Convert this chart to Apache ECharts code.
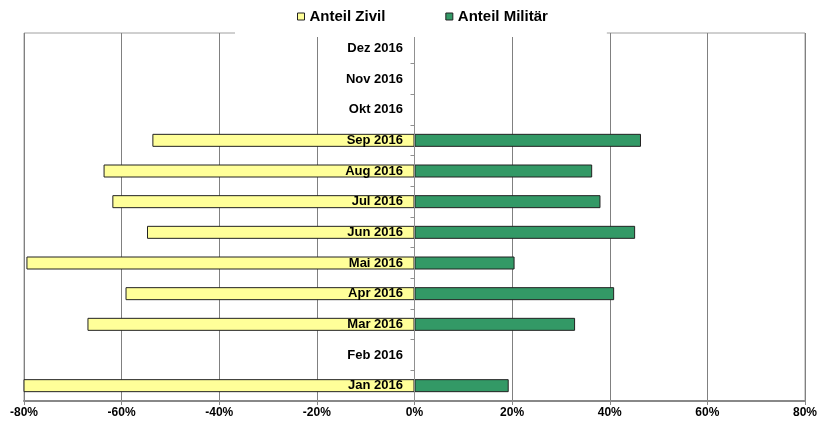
<!DOCTYPE html>
<html>
<head>
<meta charset="utf-8">
<script src="https://cdn.jsdelivr.net/npm/echarts@6/dist/echarts.min.js"></script>
<style>html,body{margin:0;padding:0;background:#fff}#c{width:817px;height:428px}</style>
</head>
<body>
<div id="c"></div>
<script>
const categories = ['Jan 2016','Feb 2016','Mar 2016','Apr 2016','Mai 2016','Jun 2016','Jul 2016','Aug 2016','Sep 2016','Okt 2016','Nov 2016','Dez 2016'];
const zivil = [-80.7, null, -67.0, -59.2, -79.5, -54.8, -61.9, -63.7, -53.7, null, null, null];
const militaer = [19.3, null, 32.9, 40.9, 20.5, 45.2, 38.1, 36.4, 46.4, null, null, null];
const xTicks = [-80, -60, -40, -20, 0, 20, 40, 60, 80];

const chart = echarts.init(document.getElementById('c'), null, {renderer: 'canvas'});
const font = 'Liberation Sans, Arial, sans-serif';
chart.setOption({
  animation: false,
  textStyle: {fontFamily: font},
  legend: {
    top: 3,
    left: 235,
    padding: [6, 59, 13, 62],
    backgroundColor: '#ffffff',
    itemWidth: 7,
    itemHeight: 7,
    itemGap: 60,
    icon: 'rect',
    z: 10,
    textStyle: {fontFamily: font, fontSize: 15, fontWeight: 'bold', color: '#000'},
    data: [
      {name: 'Anteil Zivil', itemStyle: {color: '#FFFF99', borderColor: '#222', borderWidth: 1}},
      {name: 'Anteil Militär', itemStyle: {color: '#339966', borderColor: '#222', borderWidth: 1}}
    ]
  },
  grid: {left: 24, right: 12, top: 33, bottom: 27, show: true, borderColor: '#a0a0a0', borderWidth: 1, containLabel: false, outerBoundsMode: 'none'},
  xAxis: {
    type: 'value', min: xTicks[0], max: xTicks[xTicks.length - 1], interval: 20,
    axisLine: {show: true, lineStyle: {color: '#888888', width: 2}},
    axisTick: {show: true, length: 4, lineStyle: {color: '#888888'}},
    splitLine: {show: true, lineStyle: {color: '#808080', width: 1}},
    axisLabel: {formatter: '{value}%', fontFamily: font, fontSize: 12, fontWeight: 'bold', color: '#000', margin: 6}
  },
  yAxis: {
    type: 'category', data: categories, z: 5,
    axisLine: {show: true, onZero: true, lineStyle: {color: '#909090', width: 1}},
    axisTick: {show: true, length: 4, lineStyle: {color: '#909090'}},
    axisLabel: {fontFamily: font, fontSize: 13, fontWeight: 'bold', color: '#000', margin: -379, interval: 0, align: 'right'}
  },
  series: [
    {name: 'Anteil Zivil', type: 'bar', stack: 'a', data: zivil, barWidth: 13,
     itemStyle: {color: '#FFFF99', borderColor: '#222', borderWidth: 1}},
    {name: 'Anteil Militär', type: 'bar', stack: 'a', data: militaer, barWidth: 13,
     itemStyle: {color: '#339966', borderColor: '#222', borderWidth: 1}}
  ]
});
</script>
</body>
</html>
